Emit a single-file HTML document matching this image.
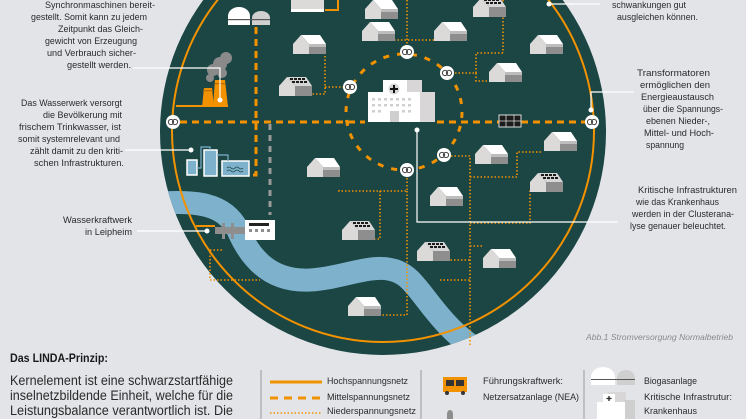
<!DOCTYPE html>
<html><head><meta charset="utf-8"><style>
html,body{margin:0;padding:0;background:#e3e4e8;}
svg{display:block}
text{font-family:"Liberation Sans",sans-serif;fill:#2a2a2a;}
.s{font-size:9.5px}
.l{font-size:9.5px}
</style></head><body>
<svg width="746" height="419" viewBox="0 0 746 419" xmlns="http://www.w3.org/2000/svg">
<defs>
<clipPath id="cc"><circle cx="383" cy="132" r="223"/></clipPath>
<g id="h">
 <polygon points="8,0 27,0 33,9 16,9" fill="#ffffff"/>
 <polygon points="0,9 8,0 16,9 16,19 0,19" fill="#dcd9d9"/>
 <rect x="16" y="9" width="17" height="10" fill="#8e8e8e"/>
 <rect x="16" y="9" width="17" height="3" fill="#bdbdbd"/>
</g>
<g id="sh">
 <polygon points="8,0 27,0 33,9 16,9" fill="#d6d6d6"/>
 <g fill="#1b1b1b">
  <rect x="11" y="1" width="3" height="2"/><rect x="15" y="1" width="3" height="2"/><rect x="19" y="1" width="3" height="2"/><rect x="23" y="1" width="3" height="2"/>
  <rect x="13" y="4" width="3" height="2"/><rect x="17" y="4" width="3" height="2"/><rect x="21" y="4" width="3" height="2"/><rect x="25" y="4" width="3" height="2"/>
 </g>
 <polygon points="0,9 8,0 16,9 16,19 0,19" fill="#dcd9d9"/>
 <rect x="16" y="9" width="17" height="10" fill="#8e8e8e"/>
</g>
<g id="t">
 <circle r="7" fill="#fff"/>
 <circle cx="-2" r="2.6" fill="none" stroke="#444" stroke-width="1"/>
 <circle cx="2" r="2.6" fill="none" stroke="#444" stroke-width="1"/>
</g>
</defs>

<circle cx="383" cy="132" r="223" fill="#1b4644"/>
<g clip-path="url(#cc)">
 <path d="M140,205 C200,198 225,205 238,230 C250,258 270,282 310,280 C350,278 385,255 410,280 C430,300 445,335 495,360" fill="none" stroke="#7eb1cc" stroke-width="23"/>
</g>
<circle cx="383" cy="131" r="211" fill="none" stroke="#f39200" stroke-width="2"/>

<g fill="none" stroke="#f39200" stroke-width="1.6" stroke-dasharray="1.5 2">
 <path d="M325,56 L325,94 L311,94"/>
 <path d="M325,87 L350,87"/>
 <path d="M407,0 L407,45"/>
 <path d="M394,40 L455,40"/>
 <path d="M455,73 L476,73 L476,53 L503,53"/>
 <path d="M503,0 L503,53"/>
 <path d="M476,73 L476,81 L490,81"/>
 <path d="M339,190 L339,191 L407,191 L407,177"/>
 <path d="M380,191 L380,239 L372,239"/>
 <path d="M407,191 L407,315 L380,315"/>
 <path d="M451,156 L470,156 L470,347"/>
 <path d="M470,177 L517,177 L517,152 L543,152"/>
 <path d="M470,223 L530,223 L530,190"/>
 <path d="M470,246 L483,246"/>
 <path d="M440,260 L470,260"/>
 <path d="M222,250 L210,250 L210,280 L260,280"/>
 <path d="M440,280 L470,280"/>
</g>

<g fill="none" stroke="#f39200" stroke-width="3" stroke-dasharray="7 5">
 <path d="M180,122 L365,122"/>
 <path d="M437,122 L585,122"/>
 <path d="M256,27 L256,175 L248,175"/>
 <circle cx="404" cy="112" r="58" stroke-dasharray="6 8"/>
</g>
<path d="M270,124 L270,215" stroke="#9a9a9a" stroke-width="3" stroke-dasharray="6 5"/>

<g fill="none" stroke="#f39200" stroke-width="2">
 <path d="M176,106 L228,106"/>
 <path d="M196,226 L215,226"/>
 <path d="M325,10 L338,10 L338,0"/>
</g>

<use href="#t" x="173" y="122"/>
<use href="#t" x="592" y="122"/>
<use href="#t" x="407" y="52"/>
<use href="#t" x="447" y="73"/>
<use href="#t" x="350" y="87"/>
<use href="#t" x="444" y="155"/>
<use href="#t" x="407" y="170"/>

<use href="#h" x="293" y="35"/>
<use href="#h" x="362" y="22"/>
<use href="#h" x="434" y="22"/>
<use href="#h" x="530" y="35"/>
<use href="#h" x="489" y="63"/>
<use href="#h" x="544" y="132"/>
<use href="#h" x="475" y="145"/>
<use href="#h" x="430" y="187"/>
<use href="#h" x="307" y="158"/>
<use href="#h" x="483" y="249"/>
<use href="#h" x="348" y="297"/>
<use href="#h" x="365" y="0"/>
<use href="#sh" x="279" y="77"/>
<use href="#sh" x="342" y="221"/>
<use href="#sh" x="417" y="242"/>
<use href="#sh" x="530" y="173"/>
<use href="#sh" x="473" y="-2"/>

<rect x="291" y="-4" width="33" height="16" fill="#dcd9d9"/>
<rect x="291" y="9" width="33" height="3" fill="#fff"/>

<path d="M228,25 L228,16 A11,9 0 0 1 250,16 L250,25 Z" fill="#fff"/>
<path d="M252,25 L252,18 A9,7 0 0 1 270,18 L270,25 Z" fill="#d0d0d0"/>
<rect x="228" y="19" width="42" height="1.2" fill="#555"/>

<g fill="#8a8a8a">
 <circle cx="213" cy="70" r="6"/><circle cx="220" cy="64" r="7"/><circle cx="226" cy="58" r="6"/><circle cx="210" cy="78" r="4"/><circle cx="222" cy="73" r="5"/>
</g>
<path d="M202,107 L204,88 L212,88 L214,107 Z" fill="#f39200"/>
<path d="M213,107 L215,80 L225,80 L228,107 Z" fill="#f39200"/>
<rect x="203" y="90" width="10" height="1.2" fill="#b86e00"/>
<rect x="215" y="83" width="10" height="1.2" fill="#b86e00"/>

<g stroke="#fff" stroke-width="1.5" fill="#7eb1cc">
 <rect x="187" y="160" width="10" height="15"/>
 <rect x="204" y="150" width="13" height="26"/>
 <rect x="222" y="161" width="27" height="15"/>
</g>
<path d="M197,168 L201,168 L201,147 L210,147 L210,150 M217,155 L228,155 L228,161" stroke="#7eb1cc" stroke-width="1.2" fill="none"/>
<path d="M227,168 q2,-2 4,0 q2,2 4,0 q2,-2 4,0 q2,2 4,0 M227,171 q2,-2 4,0 q2,2 4,0 q2,-2 4,0 q2,2 4,0" stroke="#1b4644" stroke-width="0.8" fill="none"/>

<rect x="215" y="227" width="32" height="7" fill="#8e8e8e"/>
<rect x="222" y="223" width="3" height="16" fill="#8e8e8e"/><rect x="231" y="223" width="3" height="16" fill="#8e8e8e"/>
<rect x="245" y="220" width="30" height="20" fill="#fff"/>
<rect x="249" y="223" width="20" height="3" fill="#222"/>
<g fill="#8e8e8e"><rect x="249" y="229" width="3" height="3"/><rect x="255" y="229" width="3" height="3"/><rect x="261" y="229" width="3" height="3"/><rect x="267" y="229" width="3" height="3"/></g>

<rect x="383" y="80" width="38" height="16" fill="#fff"/>
<rect x="407" y="80" width="15" height="42" fill="#d8d6d6"/>
<rect x="368" y="92" width="52" height="30" fill="#fff"/>
<rect x="421" y="92" width="14" height="30" fill="#d8d6d6"/>
<circle cx="394" cy="89" r="5.5" fill="#d8d6d6"/>
<path d="M394,85 V93 M390,89 H398" stroke="#111" stroke-width="2"/>
<g fill="#cfcfcf">
 <rect x="372" y="98" width="3" height="2.5"/><rect x="378" y="98" width="3" height="2.5"/><rect x="384" y="98" width="3" height="2.5"/><rect x="390" y="98" width="3" height="2.5"/><rect x="396" y="98" width="3" height="2.5"/><rect x="402" y="98" width="3" height="2.5"/><rect x="408" y="98" width="3" height="2.5"/>
 <rect x="372" y="104" width="3" height="2.5"/><rect x="378" y="104" width="3" height="2.5"/><rect x="384" y="104" width="3" height="2.5"/><rect x="390" y="104" width="3" height="2.5"/><rect x="396" y="104" width="3" height="2.5"/><rect x="402" y="104" width="3" height="2.5"/><rect x="408" y="104" width="3" height="2.5"/>
 <rect x="372" y="110" width="3" height="2.5"/><rect x="378" y="110" width="3" height="2.5"/><rect x="402" y="110" width="3" height="2.5"/><rect x="408" y="110" width="3" height="2.5"/>
 <rect x="390" y="111" width="9" height="11"/>
</g>

<rect x="499" y="115" width="22" height="12" fill="#1b1b1b" stroke="#ddd" stroke-width="1"/>
<path d="M506,115 V127 M514,115 V127 M499,121 H521" stroke="#ddd" stroke-width="0.8"/>

<g stroke="#fff" stroke-width="1.2" fill="none">
 <path d="M133,68 L220,68 L220,100"/>
 <path d="M125,150 L191,150"/>
 <path d="M137,231 L207,231"/>
 <path d="M549,4 L600,4"/>
 <path d="M634,92 L591,92 L591,110"/>
 <path d="M417,130 L417,222 L618,222"/>
</g>
<g fill="#fff">
 <circle cx="220" cy="100" r="2.5"/><circle cx="191" cy="150" r="2.5"/><circle cx="207" cy="231" r="2.5"/>
 <circle cx="549" cy="4" r="2.5"/><circle cx="591" cy="110" r="2.5"/><circle cx="417" cy="130" r="2.5"/>
</g>

<g class="s">
 <text x="45" y="8" textLength="110" lengthAdjust="spacingAndGlyphs">Synchronmaschinen bereit-</text>
 <text x="31" y="20" textLength="116" lengthAdjust="spacingAndGlyphs">gestellt. Somit kann zu jedem</text>
 <text x="58" y="32" textLength="85" lengthAdjust="spacingAndGlyphs">Zeitpunkt das Gleich-</text>
 <text x="45" y="44" textLength="92" lengthAdjust="spacingAndGlyphs">gewicht von Erzeugung</text>
 <text x="47" y="56" textLength="89" lengthAdjust="spacingAndGlyphs">und Verbrauch sicher-</text>
 <text x="67" y="68" textLength="64" lengthAdjust="spacingAndGlyphs">gestellt werden.</text>

 <text x="21" y="106" textLength="101" lengthAdjust="spacingAndGlyphs">Das Wasserwerk versorgt</text>
 <text x="43" y="118" textLength="79" lengthAdjust="spacingAndGlyphs">die Bevölkerung mit</text>
 <text x="19" y="130" textLength="102" lengthAdjust="spacingAndGlyphs">frischem Trinkwasser, ist</text>
 <text x="18" y="142" textLength="102" lengthAdjust="spacingAndGlyphs">somit systemrelevant und</text>
 <text x="30" y="154" textLength="93" lengthAdjust="spacingAndGlyphs">zählt damit zu den kriti-</text>
 <text x="34" y="166" textLength="90" lengthAdjust="spacingAndGlyphs">schen Infrastrukturen.</text>

 <text x="63" y="223" textLength="69" lengthAdjust="spacingAndGlyphs">Wasserkraftwerk</text>
 <text x="85" y="235" textLength="47" lengthAdjust="spacingAndGlyphs">in Leipheim</text>

 <text x="612" y="8" textLength="74" lengthAdjust="spacingAndGlyphs">schwankungen gut</text>
 <text x="617" y="20" textLength="81" lengthAdjust="spacingAndGlyphs">ausgleichen können.</text>

 <text x="637" y="76" textLength="73" lengthAdjust="spacingAndGlyphs">Transformatoren</text>
 <text x="640" y="88" textLength="70" lengthAdjust="spacingAndGlyphs">ermöglichen den</text>
 <text x="641" y="100" textLength="73" lengthAdjust="spacingAndGlyphs">Energieaustausch</text>
 <text x="643" y="112" textLength="80" lengthAdjust="spacingAndGlyphs">über die Spannungs-</text>
 <text x="646" y="124" textLength="64" lengthAdjust="spacingAndGlyphs">ebenen Nieder-,</text>
 <text x="644" y="136" textLength="70" lengthAdjust="spacingAndGlyphs">Mittel- und Hoch-</text>
 <text x="646" y="148" textLength="38" lengthAdjust="spacingAndGlyphs">spannung</text>

 <text x="638" y="193" textLength="99" lengthAdjust="spacingAndGlyphs">Kritische Infrastrukturen</text>
 <text x="636" y="205" textLength="83" lengthAdjust="spacingAndGlyphs">wie das Krankenhaus</text>
 <text x="632" y="217" textLength="102" lengthAdjust="spacingAndGlyphs">werden in der Clusterana-</text>
 <text x="630" y="229" textLength="96" lengthAdjust="spacingAndGlyphs">lyse genauer beleuchtet.</text>
</g>

<text x="733" y="340" text-anchor="end" font-size="8.5" font-style="italic" style="fill:#8a8a8a" textLength="147" lengthAdjust="spacingAndGlyphs">Abb.1 Stromversorgung Normalbetrieb</text>

<text x="10" y="362" font-size="12" font-weight="bold" style="fill:#1a1a1a" textLength="98" lengthAdjust="spacingAndGlyphs">Das LINDA-Prinzip:</text>
<g font-size="13.5" style="fill:#1a1a1a">
 <text x="10" y="385" textLength="223" lengthAdjust="spacingAndGlyphs">Kernelement ist eine schwarzstartfähige</text>
 <text x="10" y="400" textLength="223" lengthAdjust="spacingAndGlyphs">inselnetzbildende Einheit, welche für die</text>
 <text x="10" y="415" textLength="223" lengthAdjust="spacingAndGlyphs">Leistungsbalance verantwortlich ist. Die</text>
</g>

<g stroke="#9a9a9a" stroke-width="1">
 <line x1="261" y1="370" x2="261" y2="419"/>
 <line x1="421" y1="370" x2="421" y2="419"/>
 <line x1="584" y1="370" x2="584" y2="419"/>
</g>
<line x1="270" y1="382" x2="322" y2="382" stroke="#f39200" stroke-width="3"/>
<line x1="270" y1="398" x2="322" y2="398" stroke="#f39200" stroke-width="3" stroke-dasharray="8 6"/>
<line x1="270" y1="413" x2="322" y2="413" stroke="#f39200" stroke-width="1.6" stroke-dasharray="1.5 2"/>
<g class="l">
 <text x="327" y="384" textLength="81" lengthAdjust="spacingAndGlyphs">Hochspannungsnetz</text>
 <text x="327" y="400" textLength="83" lengthAdjust="spacingAndGlyphs">Mittelspannungsnetz</text>
 <text x="327" y="414" textLength="89" lengthAdjust="spacingAndGlyphs">Niederspannungsnetz</text>
 <text x="483" y="384" textLength="80" lengthAdjust="spacingAndGlyphs">Führungskraftwerk:</text>
 <text x="483" y="400" textLength="96" lengthAdjust="spacingAndGlyphs">Netzersatzanlage (NEA)</text>
 <text x="644" y="384" textLength="53" lengthAdjust="spacingAndGlyphs">Biogasanlage</text>
 <text x="644" y="400" textLength="88" lengthAdjust="spacingAndGlyphs">Kritische Infrastrutur:</text>
 <text x="644" y="414" textLength="53" lengthAdjust="spacingAndGlyphs">Krankenhaus</text>
</g>
<rect x="443" y="377" width="24" height="15" fill="#f39200"/>
<rect x="446" y="380" width="8" height="6" fill="#333"/><rect x="456" y="380" width="8" height="6" fill="#333"/>
<circle cx="447" cy="393" r="2" fill="#333"/><circle cx="463" cy="393" r="2" fill="#333"/>
<path d="M447,419 L447,414 A3,4 0 0 1 453,414 L453,419 Z" fill="#8e8e8e"/>
<path d="M591,385 L591,377 A12,10 0 0 1 615,377 L615,385 Z" fill="#fff"/>
<path d="M617,385 L617,378 A9,8 0 0 1 635,378 L635,385 Z" fill="#cfcfcf"/>
<rect x="591" y="379" width="44" height="1" fill="#555"/>
<rect x="608" y="392" width="18" height="27" fill="#d8d6d6"/>
<rect x="624" y="400" width="11" height="19" fill="#cfcfcf"/>
<rect x="597" y="402" width="28" height="17" fill="#fff"/>
<rect x="603" y="394" width="12" height="9" fill="#fff"/>
<path d="M609,396 V401 M606.5,398.5 H611.5" stroke="#222" stroke-width="1.3"/>
</svg>
</body></html>
